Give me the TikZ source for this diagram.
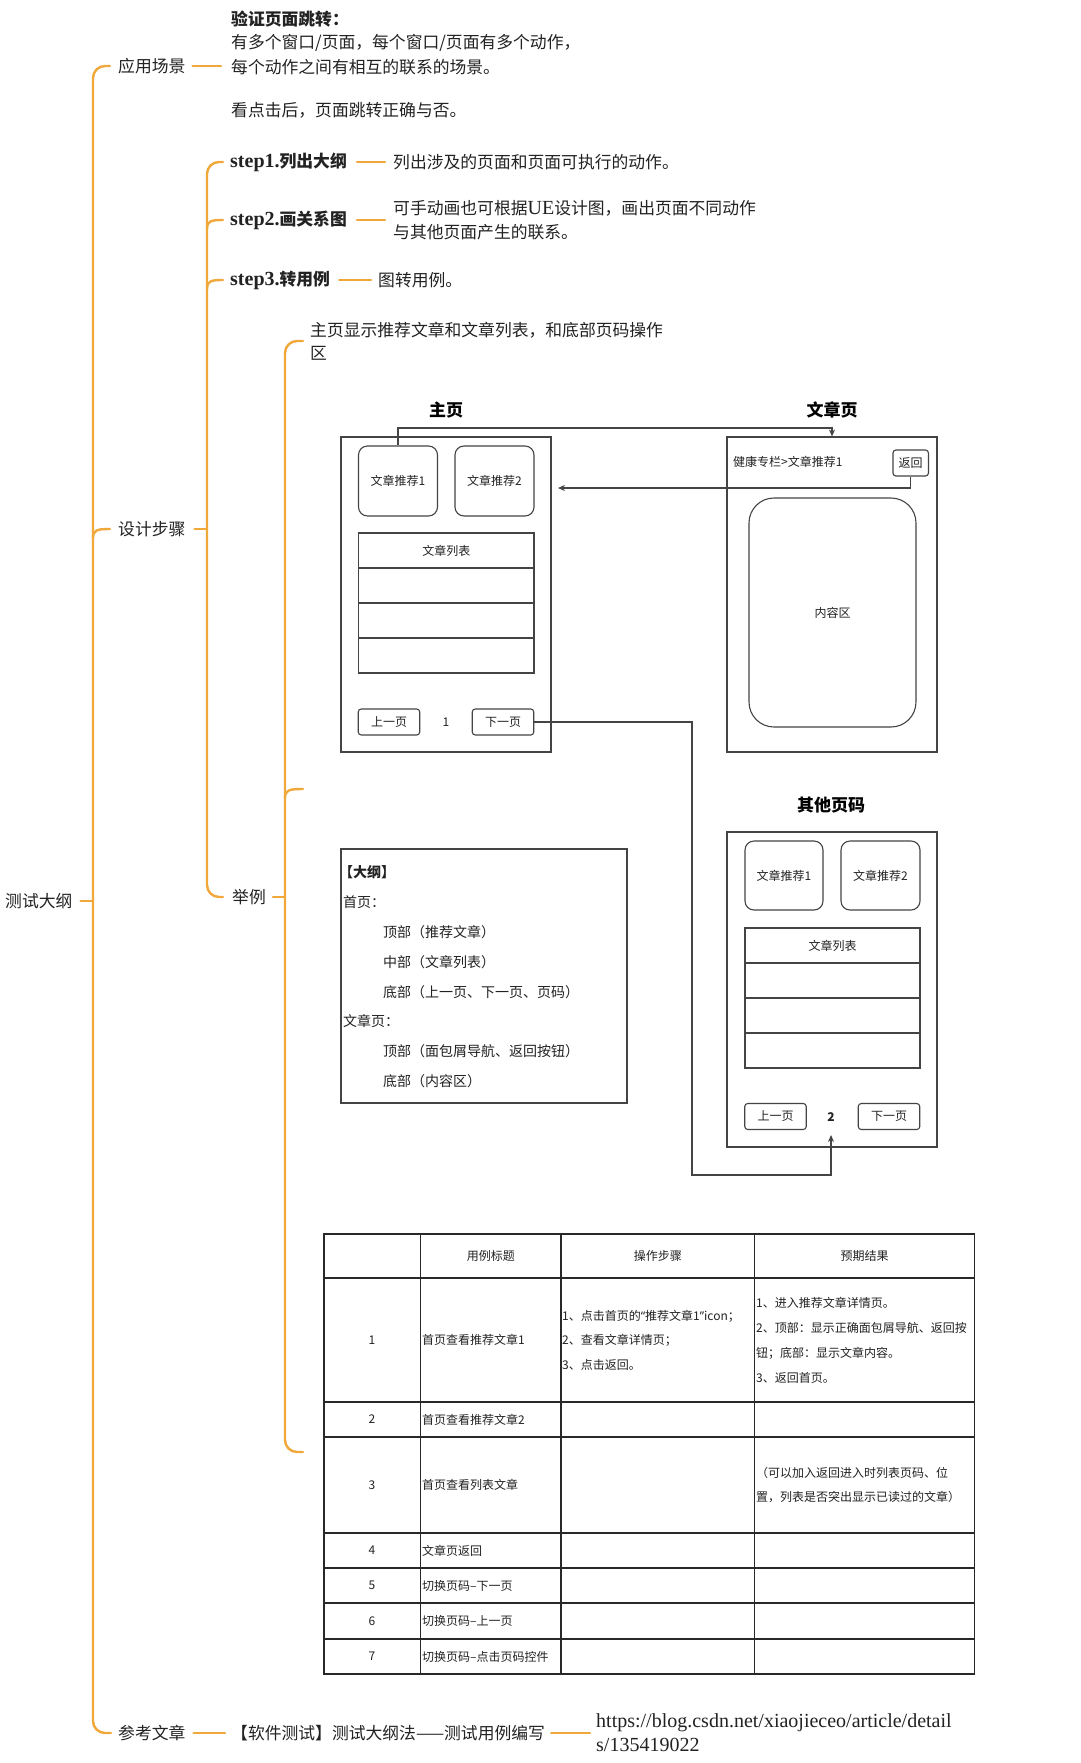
\documentclass[tikz,border=0pt]{standalone}
\usepackage{fontspec}
\setmainfont{Noto Sans CJK SC}
\newfontfamily\ser{Liberation Serif}
\newfontfamily\lsans{Noto Sans}
\usetikzlibrary{arrows.meta}
\definecolor{mmorange}{RGB}{240,168,58}
\definecolor{txt}{RGB}{34,34,34}
\definecolor{ln}{RGB}{68,68,68}
\definecolor{tln}{RGB}{40,40,40}
\newcommand{\lat}[1]{{\ser\fontsize{20}{22}\selectfont #1}}
\begin{document}
\begin{tikzpicture}[x=1pt,y=-1pt,
  mm/.style={draw=mmorange,line width=2.4pt,line cap=round},
  mt/.style={font=\fontsize{16.8}{20}\selectfont,text=txt,inner sep=0pt,anchor=west},
  st/.style={mt,font=\fontsize{16.8}{20}\selectfont\bfseries},
  ttl/.style={font=\fontsize{17}{20}\selectfont\bfseries,text=black,inner sep=0pt},
  pagebox/.style={draw=ln,line width=1.1pt,minimum width=210pt,minimum height=315pt,inner sep=0pt},
  cardbox/.style={draw=ln,line width=1.1pt,rounded corners=9pt,minimum width=79pt,minimum height=70pt,inner sep=0pt,font=\fontsize{12}{14}\selectfont,text=txt},
  rowbox/.style={draw=ln,line width=1.1pt,minimum width=175.5pt,minimum height=35pt,inner sep=0pt,font=\fontsize{12}{14}\selectfont,text=txt},
  btn/.style={draw=ln,line width=1.1pt,rounded corners=3pt,minimum width=61.5pt,minimum height=26pt,inner sep=0pt,font=\fontsize{12}{14}\selectfont,text=txt},
  lbl/.style={inner sep=0pt,font=\fontsize{12}{14}\selectfont,text=txt},
  wire/.style={draw=ln,line width=1.1pt},
  arr/.style={wire,-{Stealth[length=7pt,width=6pt]}},
  ol/.style={inner sep=0pt,anchor=west,font=\fontsize{14}{16}\selectfont,text=txt},
  tl/.style={draw=tln,line width=1.1pt},
  tt/.style={inner sep=0pt,font=\fontsize{12}{14}\selectfont,text=txt},
  ttw/.style={tt,anchor=west},
]
\useasboundingbox[fill=white] (0,0) rectangle (1080,1763);

% ---------- mind map ----------
\node[mt] (root) at (5,901) {测试大纲};
\coordinate (v1root) at (93,901);
\draw[mm] ([xshift=8pt]root.east) -- (v1root);
\draw[mm,rounded corners=12pt] (110,66) -- (93,66) -- (93,1733) -- (111,1733);
\draw[mm] (93,538) .. controls (93,530) and (97,529) .. (110,529);

\node[mt] (yycj) at (118,66) {应用场景};
\node[st] (b1) at (231,19) {验证页面跳转：};
\node[mt] (b2) at (231,43) {有多个窗口/页面，每个窗口/页面有多个动作，};
\node[mt] (b3) at (231,67) {每个动作之间有相互的联系的场景。};
\node[mt] (b4) at (231,110) {看点击后，页面跳转正确与否。};
\draw[mm] ([xshift=7pt]yycj.east) -- ([xshift=-10pt]b3.west |- yycj.east);

\node[mt] (sjbz) at (118,529) {设计步骤};
\coordinate (v2c) at (207,529);
\draw[mm] ([xshift=9pt]sjbz.east) -- (v2c);
\draw[mm,rounded corners=12pt] (223,162) -- (207,162) -- (207,897) -- (223,897);
\draw[mm] (207,229) .. controls (207,221) and (211,220) .. (223,220);
\draw[mm] (207,289) .. controls (207,281) and (211,280) .. (223,280);

\node[st] (s1) at (230,162) {\lat{step1.}列出大纲};
\node[mt] (s1t) at (393,162) {列出涉及的页面和页面可执行的动作。};
\draw[mm] ([xshift=10pt]s1.east) -- ([xshift=-8pt]s1t.west);

\node[st] (s2) at (230,220) {\lat{step2.}画关系图};
\node[mt] (s2t1) at (393,208) {可手动画也可根据\lat{UE}设计图，画出页面不同动作};
\node[mt] (s2t2) at (393,232.6) {与其他页面产生的联系。};
\coordinate (s2c) at (385,220);
\draw[mm] ([xshift=10pt]s2.east) -- (s2c);

\node[st] (s3) at (230,280) {\lat{step3.}转用例};
\node[mt] (s3t) at (378,280) {图转用例。};
\draw[mm] ([xshift=9pt]s3.east) -- ([xshift=-7pt]s3t.west);

\node[mt] (jl) at (232,897) {举例};
\coordinate (v3c) at (285,897);
\draw[mm] ([xshift=7pt]jl.east) -- (v3c);
\draw[mm,rounded corners=12pt] (303,341) -- (285,341) -- (285,1452) -- (303,1452);
\draw[mm] (285,798) .. controls (285,790) and (289,789) .. (303,789);

\node[mt] (zy1) at (310,330) {主页显示推荐文章和文章列表，和底部页码操作};
\node[mt] (zy2) at (310,353) {区};

\node[mt] (ckwz) at (118,1733) {参考文章};
\node[mt] (ref) at (231,1733) {【软件测试】测试大纲法——测试用例编写};
\draw[mm] ([xshift=8pt]ckwz.east) -- ([xshift=-6pt]ref.west);
\node[mt,font=\ser\fontsize{20}{22}\selectfont] (url1) at (596,1723) {https://blog.csdn.net/xiaojieceo/article/detail};
\node[mt,font=\ser\fontsize{20}{22}\selectfont] (url2) at (596,1745) {s/135419022};
\coordinate (urlc) at (590,1733);
\draw[mm] ([xshift=6pt]ref.east) -- (urlc);

% ---------- page diagram ----------
\node[ttl] (t1) at (446,410) {主页};
\node[ttl] (t2) at (832,410) {文章页};
\node[ttl] (t3) at (831,805) {其他页码};

\node[pagebox] (home) at (446,594.5) {};
\node[cardbox] (h1) at (398,481) {文章推荐1};
\node[cardbox] (h2) at (494.5,481) {文章推荐2};
\node[rowbox] (hl0) at (446.25,550.5) {文章列表};
\node[rowbox] (hl1) at (446.25,585.5) {};
\node[rowbox] (hl2) at (446.25,620.5) {};
\node[rowbox] (hl3) at (446.25,655.5) {};
\node[btn] (hprev) at (389,722) {上一页};
\node[lbl] (hnum) at (446,722) {1};
\node[btn] (hnext) at (503,722) {下一页};

\node[pagebox] (art) at (832,594.5) {};
\node[lbl,anchor=west] (crumb) at (733,462) {健康专栏>文章推荐1};
\node[btn,minimum width=35.5pt] (back) at (910.7,463) {返回};
\node[draw=ln,line width=1.1pt,rounded corners=25pt,minimum width=167pt,minimum height=229pt,inner sep=0pt,font=\fontsize{12}{14}\selectfont,text=txt] (content) at (832.5,612.5) {内容区};

\node[pagebox] (oth) at (832,989.5) {};
\node[cardbox,minimum width=78pt,minimum height=69pt] (o1) at (784,875.5) {文章推荐1};
\node[cardbox,minimum width=79pt,minimum height=69pt] (o2) at (880.5,875.5) {文章推荐2};
\node[rowbox,minimum width=175pt] (ol0) at (832.5,945.5) {文章列表};
\node[rowbox,minimum width=175pt] (ol1) at (832.5,980.5) {};
\node[rowbox,minimum width=175pt] (ol2) at (832.5,1015.5) {};
\node[rowbox,minimum width=175pt] (ol3) at (832.5,1050.5) {};
\node[btn] (oprev) at (775.5,1116.5) {上一页};
\node[lbl,font=\fontsize{12}{14}\selectfont\bfseries] (onum) at (831,1117) {2};
\node[btn] (onext) at (889,1116.5) {下一页};

\coordinate (top1) at (398,428);
\draw[arr] (h1.north) -- (top1) -| (art.north);
\coordinate (backtip) at (558,488);
\draw[arr] (back.south) |- (backtip);
\coordinate (nx1) at (692,1175);
\coordinate (otip) at (831,1135);
\draw[arr] (hnext.east) -| (nx1) -| (otip);

% ---------- outline box ----------
\node[draw=ln,line width=1.1pt,minimum width=286pt,minimum height=254pt,inner sep=0pt] (outline) at (484,976) {};
\node[ol,font=\fontsize{14}{16}\selectfont\bfseries] (oa) at (339,872) {【大纲】};
\node[ol] (ob) at (343,902) {首页：};
\node[ol] (oc) at (383,932) {顶部（推荐文章）};
\node[ol] (od) at (383,962) {中部（文章列表）};
\node[ol] (oe) at (383,992) {底部（上一页、下一页、页码）};
\node[ol] (of) at (343,1021) {文章页：};
\node[ol] (og) at (383,1051) {顶部（面包屑导航、返回按钮）};
\node[ol] (oh) at (383,1081) {底部（内容区）};

% ---------- table ----------
\draw[tl] (324,1234) rectangle (974.5,1674);
\foreach \xx in {420.5,561,754.5} \draw[tl] (\xx,1234) -- (\xx,1674);
\foreach \yy in {1278,1402,1437,1533,1568,1603,1639} \draw[tl] (324,\yy) -- (974.5,\yy);

\node[tt] (th1) at (490.75,1256) {用例标题};
\node[tt] (th2) at (657.75,1256) {操作步骤};
\node[tt] (th3) at (864.5,1256) {预期结果};

\node[tt] (n1) at (372,1340) {1};
\node[tt] (n2) at (372,1419.5) {2};
\node[tt] (n3) at (372,1485) {3};
\node[tt] (n4) at (372,1550.5) {4};
\node[tt] (n5) at (372,1585.5) {5};
\node[tt] (n6) at (372,1621) {6};
\node[tt] (n7) at (372,1656.5) {7};

\node[ttw] (c1) at (422,1340) {首页查看推荐文章1};
\node[ttw] (c2) at (422,1419.5) {首页查看推荐文章2};
\node[ttw] (c3) at (422,1485) {首页查看列表文章};
\node[ttw] (c4) at (422,1550.5) {文章页返回};
\node[ttw] (c5) at (422,1585.5) {切换页码–下一页};
\node[ttw] (c6) at (422,1621) {切换页码–上一页};
\node[ttw] (c7) at (422,1656.5) {切换页码–点击页码控件};

\node[ttw] (p1) at (562,1316) {1、点击首页的{\lsans “}推荐文章1{\lsans ”}icon；};
\node[ttw] (p2) at (562,1340) {2、查看文章详情页；};
\node[ttw] (p3) at (562,1365) {3、点击返回。};

\node[ttw] (r1) at (756,1303) {1、进入推荐文章详情页。};
\node[ttw] (r2) at (756,1328) {2、顶部：显示正确面包屑导航、返回按};
\node[ttw] (r3) at (756,1353) {钮；底部：显示文章内容。};
\node[ttw] (r4) at (756,1378) {3、返回首页。};
\node[ttw] (r5) at (756,1473) {（可以加入返回进入时列表页码、位};
\node[ttw] (r6) at (756,1497) {置，列表是否突出显示已读过的文章）};
\end{tikzpicture}
\end{document}
